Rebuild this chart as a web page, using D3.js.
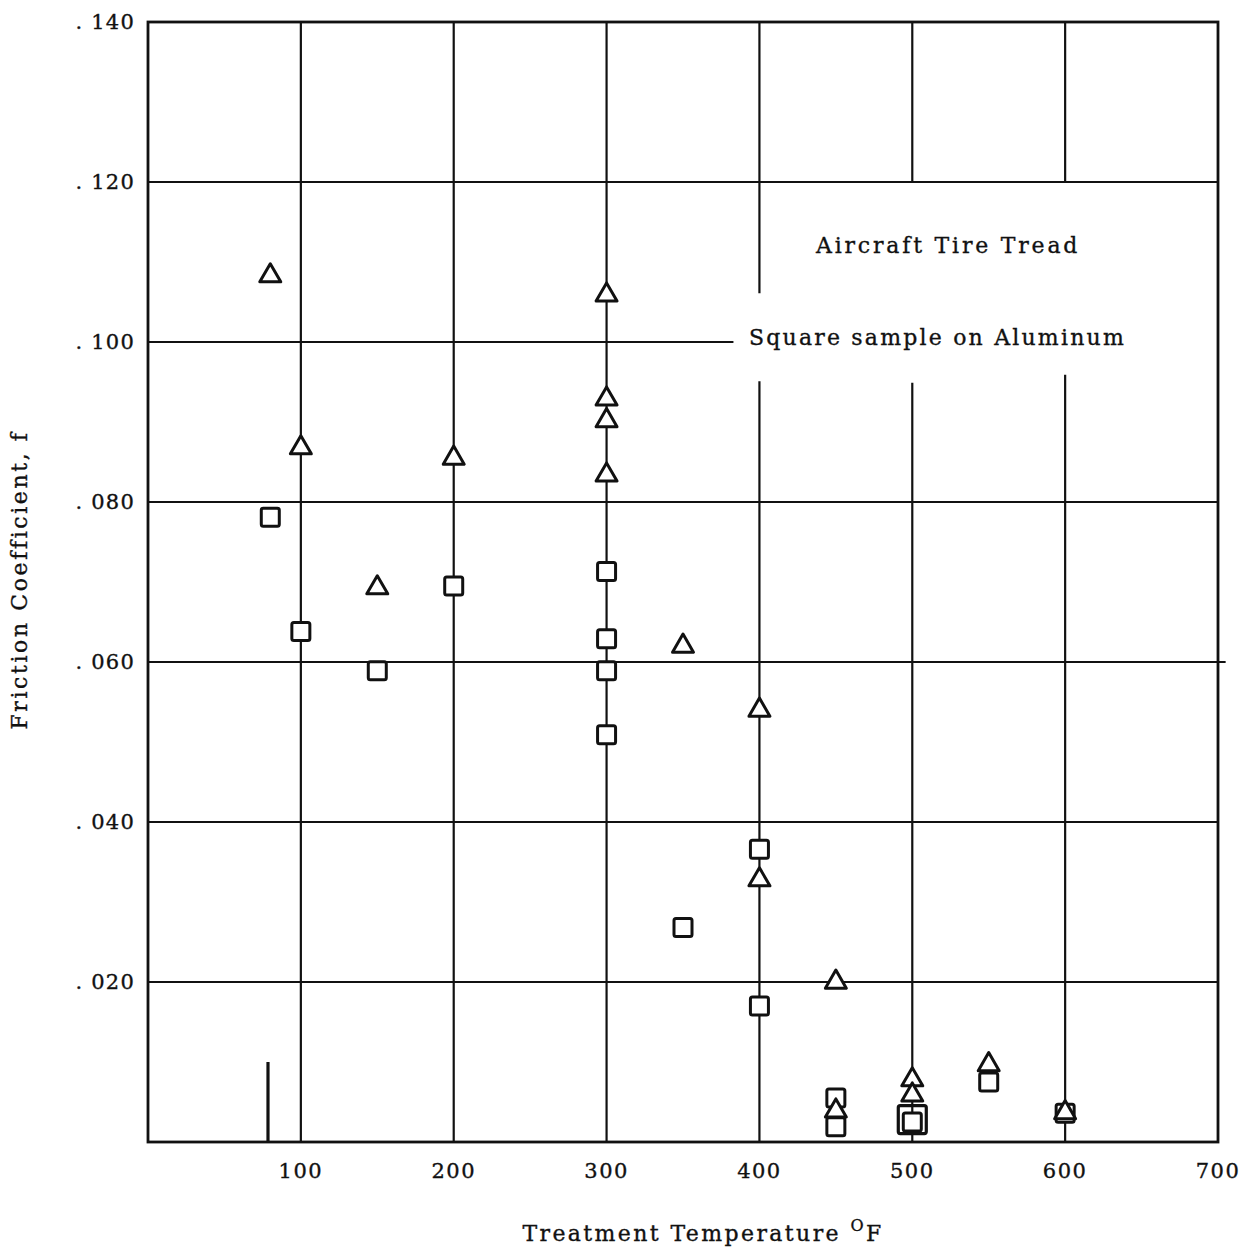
<!DOCTYPE html>
<html>
<head>
<meta charset="utf-8">
<script src="https://cdn.jsdelivr.net/npm/d3@7"></script>
<style>
  body { margin: 0; background: #fff; }
  text { font-family: "DejaVu Serif", "Liberation Serif", serif; fill: #111; stroke: #111; stroke-width: 0.35; }
</style>
</head>
<body>
<div id="chart"></div>
<script>
// Friction coefficient vs treatment temperature, aircraft tire tread

var triTemps = [80, 100, 150, 200, 300, 300, 300, 300, 350, 400, 400, 450, 450, 500, 500, 550, 600];
var triVals  = [.1084, .0869, .0694, .0856, .1060, .0930, .0903, .0835, .0621, .0541, .0329, .0201, .0040, .0079, .0060, .0098, .0038];

var sqTemps = [80, 100, 150, 200, 300, 300, 300, 300, 350, 400, 400, 450, 450, 500, 550, 600];
var sqVals  = [.0781, .0638, .0589, .0695, .0713, .0629, .0589, .0509, .0268, .0366, .0170, .0055, .0019, .0025, .0075, .0036];

// the doubled square at 500
var bigSqTemps = [500];
var bigSqVals  = [.0028];

var xTicks = [100, 200, 300, 400, 500, 600, 700];
var yTicks = [.020, .040, .060, .080, .100, .120, .140];

// grid segments in data units: [value, from, to]
var vGrid = [[100, 0, .14], [200, 0, .14], [300, 0, .14],
             [400, 0, .0951], [400, .1061, .14],
             [500, 0, .0949], [500, .12, .14],
             [600, 0, .0959], [600, .12, .14]];
var hGrid = [[.020, 0, 700], [.040, 0, 700], [.060, 0, 705], [.080, 0, 700],
             [.100, 0, 383], [.120, 0, 700]];
var roomMark = [78.5, 0, .010];

var w = 1252, h = 1252;
var margin = {left: 148, right: 34, top: 22, bottom: 110};

var x = d3.scaleLinear().domain([0, 700]).range([margin.left, w - margin.right]);
var y = d3.scaleLinear().domain([0, .14]).range([h - margin.bottom, margin.top]);

var svg = d3.select("#chart").append("svg")
  .attr("width", w).attr("height", h);

// grid
svg.selectAll("line.vgrid").data(vGrid).enter().append("line")
  .attr("class", "vgrid")
  .attr("x1", function (d) { return x(d[0]); })
  .attr("x2", function (d) { return x(d[0]); })
  .attr("y1", function (d) { return y(d[1]); })
  .attr("y2", function (d) { return y(d[2]); })
  .attr("stroke", "#111").attr("stroke-width", 2.2);

svg.selectAll("line.hgrid").data(hGrid).enter().append("line")
  .attr("class", "hgrid")
  .attr("y1", function (d) { return y(d[0]); })
  .attr("y2", function (d) { return y(d[0]); })
  .attr("x1", function (d) { return x(d[1]); })
  .attr("x2", function (d) { return x(d[2]); })
  .attr("stroke", "#111").attr("stroke-width", 2.2);

svg.append("line")
  .attr("x1", x(roomMark[0])).attr("x2", x(roomMark[0]))
  .attr("y1", y(roomMark[1])).attr("y2", y(roomMark[2]))
  .attr("stroke", "#111").attr("stroke-width", 3.2);

// frame
svg.append("rect")
  .attr("x", x(0)).attr("y", y(.14))
  .attr("width", x(700) - x(0)).attr("height", y(0) - y(.14))
  .attr("fill", "none").attr("stroke", "#111").attr("stroke-width", 2.8);

// axes labels
svg.selectAll("text.xtick").data(xTicks).enter().append("text")
  .attr("class", "xtick")
  .attr("x", function (d) { return x(d); })
  .attr("y", y(0) + 36)
  .attr("text-anchor", "middle")
  .attr("font-size", 21)
  .attr("letter-spacing", 1.5)
  .text(function (d) { return d; });

svg.selectAll("text.ytick").data(yTicks).enter().append("text")
  .attr("class", "ytick")
  .attr("x", x(0) - 13)
  .attr("y", function (d) { return y(d) + 7; })
  .attr("text-anchor", "end")
  .attr("font-size", 21)
  .attr("letter-spacing", 1.2)
  .attr("xml:space", "preserve")
  .text(function (d) { return ". " + d3.format(".3f")(d).slice(2); });

svg.append("text")
  .attr("x", 703).attr("y", 1241)
  .attr("text-anchor", "middle")
  .attr("font-size", 22)
  .attr("letter-spacing", 2.4)
  .text("Treatment Temperature ")
  .append("tspan").attr("dy", -10).attr("font-size", 16).text("O")
  .append("tspan").attr("dy", 10).attr("font-size", 22).text("F");

svg.append("text")
  .attr("transform", "translate(27," + 580 + ") rotate(-90)")
  .attr("text-anchor", "middle")
  .attr("font-size", 22)
  .attr("letter-spacing", 2.6)
  .text("Friction Coefficient, f");

svg.append("text")
  .attr("x", 816).attr("y", 253)
  .attr("font-size", 22).attr("letter-spacing", 2.8)
  .text("Aircraft Tire Tread");

svg.append("text")
  .attr("x", 749).attr("y", 345)
  .attr("font-size", 22).attr("letter-spacing", 2.2)
  .text("Square sample on Aluminum");

// markers
var tri = d3.symbol().type(d3.symbolTriangle).size(190);

svg.selectAll("rect.sq").data(d3.zip(sqTemps, sqVals)).enter().append("rect")
  .attr("class", "sq")
  .attr("x", function (d) { return x(d[0]) - 9; })
  .attr("y", function (d) { return y(d[1]) - 9; })
  .attr("width", 18).attr("height", 18).attr("rx", 2)
  .attr("fill", "#fff").attr("stroke", "#111").attr("stroke-width", 3);

svg.selectAll("rect.bigsq").data(d3.zip(bigSqTemps, bigSqVals)).enter().append("rect")
  .attr("class", "bigsq")
  .attr("x", function (d) { return x(d[0]) - 14; })
  .attr("y", function (d) { return y(d[1]) - 14; })
  .attr("width", 28).attr("height", 28).attr("rx", 2)
  .attr("fill", "none").attr("stroke", "#111").attr("stroke-width", 3.2);

svg.selectAll("path.tri").data(d3.zip(triTemps, triVals)).enter().append("path")
  .attr("class", "tri")
  .attr("transform", function (d) { return "translate(" + x(d[0]) + "," + (y(d[1]) + 1) + ")"; })
  .attr("d", tri)
  .attr("fill", "#fff").attr("stroke", "#111").attr("stroke-width", 3)
  .attr("stroke-linejoin", "round");
</script>
</body>
</html>
